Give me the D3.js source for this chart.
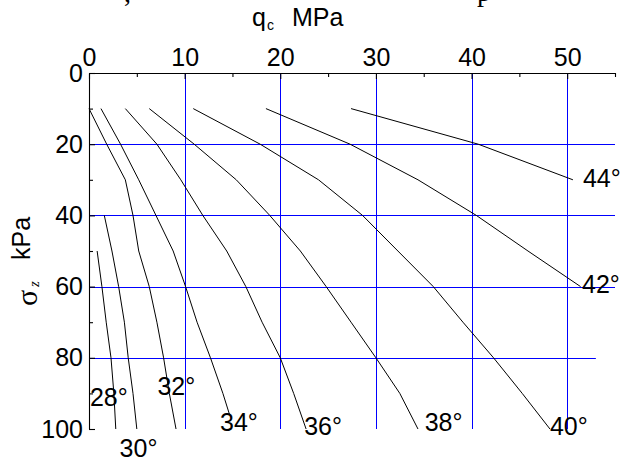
<!DOCTYPE html>
<html>
<head>
<meta charset="utf-8">
<script src="https://cdn.jsdelivr.net/npm/d3@7"></script>
<style>
  html, body { margin: 0; padding: 0; background: #fff; }
  svg { display: block; }
  text { font-family: "Liberation Sans", Arial, sans-serif; fill: #000; }
</style>
</head>
<body>
<svg id="chart" width="624" height="463"></svg>
<script>
// Friction angle of each curve (degrees)
const phi = [28, 30, 32, 34, 36, 38, 40, 42, 44];

// Vertical effective stress along each curve, kPa
const sigmaZ = [
  [50, 60, 70, 80, 90, 100],
  [40, 50, 60, 70, 80, 90, 100],
  [10, 20, 30, 40, 50, 60, 70, 80, 90, 100],
  [10, 20, 30, 40, 50, 60, 70, 80, 90, 96],
  [10, 20, 30, 40, 50, 60, 70, 80, 90, 100],
  [10, 20, 30, 40, 50, 60, 70, 80, 90, 100],
  [10, 20, 30, 40, 50, 60, 70, 80, 90, 100],
  [10, 20, 30, 40, 50, 60],
  [10, 20, 30]
];

// Cone resistance along each curve, MPa
const qc = [
  [0.85, 1.35, 1.8, 2.3, 2.6, 2.8],
  [1.6, 2.4, 3.1, 3.7, 4.1, 4.6, 5.0],
  [0.0, 1.85, 3.8, 4.6, 5.2, 6.3, 7.1, 7.8, 8.4, 9.1],
  [1.25, 3.3, 5.2, 7.0, 8.8, 10.1, 11.3, 12.7, 14.0, 14.7],
  [3.8, 7.1, 9.6, 11.9, 14.4, 16.4, 18.1, 20.0, 21.4, 22.7],
  [6.3, 11.0, 15.4, 18.9, 22.1, 24.8, 27.4, 30.0, 32.5, 34.4],
  [10.9, 17.9, 24.0, 28.6, 32.3, 36.0, 39.1, 42.3, 45.3, 48.2],
  [18.5, 27.3, 34.4, 40.5, 45.9, 51.4],
  [27.4, 40.7, 50.6]
];

// Where each angle label sits (qc, sigma of its text baseline start)
const labelQc    = [0.1, 3.2, 7.15, 13.7, 22.5, 35.1, 48.2, 51.55, 51.65];
const labelSigma = [93.5, 108, 90.4, 100.6, 101.7, 100.6, 101.7, 61.8, 32];

// Axis ticks
const qcMajor = [0, 10, 20, 30, 40, 50];
const qcMinor = [5, 15, 25, 35, 45, 55];
const sigmaMajor = [0, 20, 40, 60, 80, 100];
const sigmaMinor = [10, 30, 50, 70, 90];

// Grid lines
const gridQc = [10, 20, 30, 40, 50];
const gridSigma = [20, 40, 60, 80];
const gridSigmaEnd = [55, 55, 55, 53];

const svg = d3.select("#chart");

const x = d3.scaleLinear().domain([0, 55]).range([89, 615]);
const y = d3.scaleLinear().domain([0, 100]).range([73, 429]);

// Fragments of the text line above the figure, cut by the top edge
svg.append("text").attr("x", 124).attr("y", 2)
  .style("font-family", "'Liberation Serif', 'Times New Roman', serif")
  .style("font-size", "28px").text(",");
svg.append("text").attr("x", 477).attr("y", 1)
  .style("font-family", "'Liberation Serif', 'Times New Roman', serif")
  .style("font-size", "28px").text("p");

// Blue grid
const grid = svg.append("g").attr("stroke", "#0000ff").attr("stroke-width", 1);
grid.selectAll("line.v").data(gridQc).join("line")
  .attr("class", "v")
  .attr("x1", d => Math.round(x(d)) + 0.5).attr("x2", d => Math.round(x(d)) + 0.5)
  .attr("y1", y(0)).attr("y2", y(100));
grid.selectAll("line.h").data(gridSigma).join("line")
  .attr("class", "h")
  .attr("x1", x(0)).attr("x2", (d, i) => x(gridSigmaEnd[i]))
  .attr("y1", d => Math.round(y(d)) + 0.5).attr("y2", d => Math.round(y(d)) + 0.5);

// Axes along the top and left
const fontPx = "25px";
const topAxis = svg.append("g").attr("transform", `translate(0,${y(0)})`);
topAxis.call(d3.axisTop(x).tickValues(qcMajor).tickSize(-6).tickSizeOuter(0).tickPadding(7).tickFormat(d3.format("d")));
topAxis.append("g").call(d3.axisTop(x).tickValues(qcMinor).tickSize(-4).tickSizeOuter(0).tickFormat(""))
  .select(".domain").remove();

const leftAxis = svg.append("g").attr("transform", `translate(${x(0)},0)`);
leftAxis.call(d3.axisLeft(y).tickValues(sigmaMajor).tickSize(-6).tickSizeOuter(0).tickPadding(6).tickFormat(d3.format("d")));
leftAxis.append("g").call(d3.axisLeft(y).tickValues(sigmaMinor).tickSize(-4).tickSizeOuter(0).tickFormat(""))
  .select(".domain").remove();

svg.selectAll(".tick text")
  .attr("font-family", "'Liberation Sans', Arial, sans-serif")
  .attr("font-size", fontPx).attr("fill", "#000");
svg.selectAll(".domain, .tick line").attr("stroke", "#000").attr("stroke-width", 1.1);

// Axis titles
const title = svg.append("g");
title.append("text").attr("x", 252).attr("y", 26).style("font-size", "25px").text("q");
title.append("text").attr("x", 267).attr("y", 30).style("font-size", "14px").text("c");
title.append("text").attr("x", 292).attr("y", 26).style("font-size", "25px").text("MPa");

const ytitle = svg.append("g").attr("transform", "rotate(-90)");
ytitle.append("text").attr("x", -306).attr("y", 37)
  .style("font-family", "'Liberation Serif', 'Times New Roman', serif")
  .style("font-size", "30px").text("σ");
ytitle.append("text").attr("x", -287).attr("y", 39)
  .style("font-family", "'Liberation Serif', 'Times New Roman', serif")
  .style("font-style", "italic").style("font-size", "15px").text("z");
ytitle.append("text").attr("x", -260).attr("y", 30).style("font-size", "25px").text("kPa");

// Friction-angle curves
const line = d3.line().x(d => x(d[0])).y(d => y(d[1]));
svg.append("g").selectAll("path").data(phi).join("path")
  .attr("d", (p, i) => line(qc[i].map((v, j) => [v, sigmaZ[i][j]])))
  .attr("fill", "none").attr("stroke", "#000").attr("stroke-width", 1);

svg.append("g").selectAll("text").data(phi).join("text")
  .attr("x", (p, i) => x(labelQc[i]))
  .attr("y", (p, i) => y(labelSigma[i]))
  .style("font-size", "25px")
  .text(p => p + "°");
</script>
</body>
</html>
